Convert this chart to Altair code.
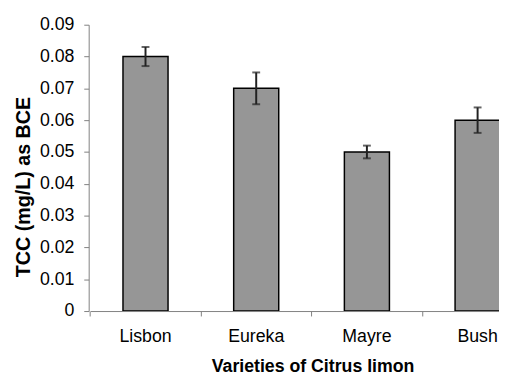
import altair as alt
import pandas as pd

varieties = ["Lisbon", "Eureka", "Mayre", "Bush"]
tcc = [0.080, 0.070, 0.050, 0.060]
sd = [0.003, 0.005, 0.002, 0.004]
y_ticks = [0, 0.01, 0.02, 0.03, 0.04, 0.05, 0.06, 0.07, 0.08, 0.09]

df = pd.DataFrame({"variety": varieties, "tcc": tcc, "sd": sd})
df["lo"] = df["tcc"] - df["sd"]
df["hi"] = df["tcc"] + df["sd"]

FONT = "Liberation Sans"
AX = "#7f7f7f"

x_scale = alt.Scale(range=[1.5, 451.5], paddingInner=0, paddingOuter=0)
y_scale = alt.Scale(domain=[0, 0.09], nice=False)

x_axis = alt.Axis(
    title="Varieties of Citrus limon",
    titleFont=FONT, titleFontSize=18, titleFontWeight="bold", titleColor="black",
    titleX=227.5, titleY=61, titleAlign="center", titleBaseline="alphabetic",
    labelFont=FONT, labelFontSize=18, labelColor="black", labelAngle=0,
    bandPosition=0, labelPadding=12, labelOverlap=False,
    tickSize=5, tickColor=AX, domainColor=AX, grid=False,
)
y_axis = alt.Axis(
    title="TCC (mg/L) as BCE",
    titleFont=FONT, titleFontSize=20, titleFontWeight="bold", titleColor="black",
    titleAngle=270, titleX=-66, titleY=164.5, titleAlign="center", titleBaseline="middle",
    labelFont=FONT, labelFontSize=18, labelColor="black", labelPadding=10,
    values=y_ticks, labelOverlap=False,
    labelExpr="datum.value == 0 ? '0' : format(datum.value, '.2f')",
    tickSize=5, tickColor=AX, domainColor=AX, grid=False,
)


def X():
    return alt.X("variety:N", sort=varieties, scale=x_scale, axis=x_axis)


def Y(field):
    return alt.Y(field, scale=y_scale, axis=y_axis)


base = alt.Chart(df)

bars = base.mark_bar(
    width=alt.RelativeBandSize(0.407), color="#969696", stroke="black",
    strokeWidth=1.5, clip=True,
).encode(x=X(), y=Y("tcc:Q"))

rules = base.mark_rule(color="#222222", strokeWidth=2).encode(
    x=X(), y=Y("lo:Q"), y2="hi:Q",
)
cap_lo = base.mark_tick(color="#222222", size=8, thickness=2).encode(
    x=X(), y=Y("lo:Q"),
)
cap_hi = base.mark_tick(color="#222222", size=8, thickness=2).encode(
    x=X(), y=Y("hi:Q"),
)

chart = alt.layer(bars, rules, cap_lo, cap_hi).properties(
    width=417, height=291,
    autosize=alt.AutoSizeParams(type="none"),
    padding={"left": 82, "top": 14, "right": 0, "bottom": 62},
    background="white",
).configure_view(stroke=None)

chart.save("out.html", embed_options={"renderer": "svg", "actions": False})
